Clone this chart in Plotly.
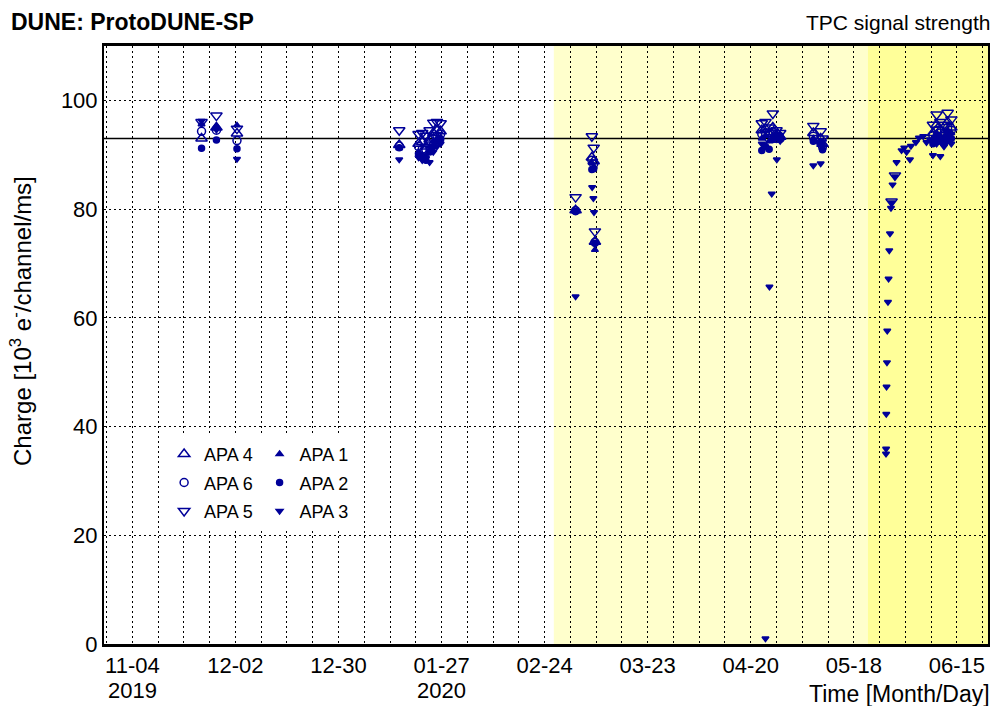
import pandas as pd
import plotly.graph_objects as go

# ------------------------------------------------------------------ data
APA4_DATES = ["2019-11-22 19:00", "2019-11-26 20:00", "2019-12-02 10:00", "2020-01-15 12:00",
              "2020-01-20 18:00", "2020-01-21 18:00", "2020-01-22 18:00", "2020-01-23 18:00",
              "2020-01-24 18:00", "2020-01-25 18:00", "2020-01-26 18:00",
              "2020-03-03 10:00", "2020-03-07 20:00", "2020-03-08 08:00", "2020-03-08 16:00",
              "2020-04-23 00:00", "2020-04-24 00:00", "2020-04-25 00:00", "2020-04-26 00:00",
              "2020-04-27 00:00", "2020-04-28 00:00",
              "2020-05-07 00:00", "2020-05-09 00:00", "2020-05-09 12:00",
              "2020-06-08 12:00", "2020-06-09 12:00", "2020-06-10 12:00", "2020-06-11 12:00",
              "2020-06-12 12:00", "2020-06-13 12:00"]
APA4_VALUES = [93.0, 95.0, 93.9, 91.8,
               92.0, 92.3, 91.5, 92.8, 94.0, 94.5, 94.3,
               79.8, 89.5, 88.8, 74.0,
               94.5, 94.8, 93.8, 95.0, 93.5, 93.3,
               94.0, 93.0, 92.0,
               94.0, 95.5, 94.5, 94.0, 96.0, 95.0]

APA6_DATES = APA4_DATES
APA6_VALUES = [94.3, 94.5, 92.6, 91.6,
               91.5, 91.0, 90.8, 92.0, 93.0, 93.5, 93.8,
               79.7, 89.0, 88.3, 73.9,
               93.8, 94.0, 93.0, 94.2, 93.0, 93.0,
               93.4, 92.2, 91.5,
               93.5, 94.5, 94.0, 93.5, 95.0, 94.5]

APA5_DATES = APA4_DATES + ["2020-05-28 06:15", "2020-05-29 04:20"]
APA5_VALUES = [96.0, 97.2, 94.8, 94.5,
               93.8, 94.0, 93.5, 94.5, 95.9, 96.0, 95.8,
               82.2, 93.4, 91.3, 75.9,
               95.8, 96.0, 95.0, 97.6, 94.5, 94.0,
               95.3, 94.3, 93.0,
               95.5, 97.4, 96.0, 95.5, 97.7, 96.5,
               81.4, 86.2]

APA1_DATES = APA4_DATES
APA1_VALUES = [95.6, 95.3, 95.4, 91.2,
               90.5, 90.0, 89.8, 91.5, 92.5, 93.0, 93.2,
               79.5, 88.5, 87.8, 72.5,
               93.0, 93.5, 92.5, 93.6, 93.8, 93.5,
               93.0, 92.5, 91.2,
               93.0, 94.0, 93.5, 93.2, 94.5, 94.0]

APA2_DATES = APA4_DATES
APA2_VALUES = [91.2, 92.7, 91.1, 91.3,
               90.0, 89.5, 89.0, 90.5, 91.5, 92.5, 92.8,
               79.6, 87.3, 87.4, 73.7,
               90.8, 91.5, 91.0, 92.8, 93.2, 93.5,
               92.5, 92.0, 90.9,
               92.0, 93.0, 92.5, 92.0, 93.5, 93.0]

APA3_DATES = ["2019-11-22 19:00", "2019-11-26 20:00", "2019-12-02 10:00", "2020-01-15 12:00",
              "2020-01-20 18:00", "2020-01-21 18:00", "2020-01-22 18:00", "2020-01-23 18:00",
              "2020-01-24 18:00", "2020-01-25 18:00", "2020-01-26 18:00",
              "2020-03-03 10:00", "2020-03-07 22:00", "2020-03-08 06:00", "2020-03-08 10:00",
              "2020-04-23 00:00", "2020-04-24 00:00", "2020-04-25 02:00", "2020-04-25 17:00",
              "2020-04-27 02:00", "2020-04-28 00:00",
              "2020-05-07 00:00", "2020-05-09 00:00", "2020-05-09 12:00",
              "2020-05-26 18:00", "2020-05-26 18:30", "2020-05-26 19:40", "2020-05-26 21:30",
              "2020-05-27 00:15", "2020-05-27 02:10", "2020-05-27 06:45", "2020-05-27 10:45",
              "2020-05-27 15:20", "2020-05-27 19:50", "2020-05-28 02:25", "2020-05-28 06:15",
              "2020-05-28 12:45", "2020-05-29 04:20", "2020-05-29 14:50", "2020-05-30 23:20",
              "2020-05-31 16:50", "2020-06-01 08:00", "2020-06-02 06:00", "2020-06-02 12:30",
              "2020-06-03 21:00", "2020-06-04 16:30", "2020-06-05 20:40", "2020-06-06 18:00",
              "2020-06-07 16:00",
              "2020-06-08 12:00", "2020-06-09 12:00", "2020-06-10 12:00", "2020-06-11 12:00",
              "2020-06-12 12:00", "2020-06-13 12:00"]
APA3_VALUES = [96.2, 94.6, 89.2, 89.1,
               89.5, 89.0, 89.3, 88.6, 90.5, 91.5, 92.0,
               63.9, 84.0, 82.0, 79.4,
               92.0, 1.0, 65.7, 82.8, 89.1, 92.5,
               88.0, 88.4, 91.5,
               35.0, 35.9, 42.3, 47.3,
               51.8, 57.6, 62.9, 67.2,
               72.4, 75.5, 80.2, 81.2,
               84.5, 86.0, 88.6, 90.8,
               91.3, 90.5, 89.1, 91.6,
               92.3, 93.1, 93.4, 92.3,
               92.8,
               89.9, 92.0, 89.7, 91.5, 92.5, 92.0]

REFERENCE_LEVEL = 93.0
PHASE_BOUNDARIES = ["2020-02-26 12:00", "2020-05-21 20:00"]

TICK_DATES = ["2019-11-04", "2019-12-02", "2019-12-30", "2020-01-27", "2020-02-24",
              "2020-03-23", "2020-04-20", "2020-05-18", "2020-06-15"]
TICK_TEXT = ["11-04", "12-02", "12-30", "01-27", "02-24",
             "03-23", "04-20", "05-18", "06-15"]
YEAR_DATES = ["2019-11-04", "2020-01-27"]
YEAR_TEXT = ["2019", "2020"]
GRID_START = "2019-10-28"

X_RANGE = ["2019-10-27 07:00", "2020-06-23 11:00"]
Y_RANGE = [0, 110]
Y_TICKS = [0, 20, 40, 60, 80, 100]

# ------------------------------------------------------------------ style
NAVY = "#000099"
FONT = "Liberation Sans, Arial, Helvetica, sans-serif"
WEEK_MS = 7 * 24 * 3600 * 1000

SERIES = [
    # name, dates, values, symbol, size, legend, rank
    ("APA 5", APA5_DATES, APA5_VALUES, "triangle-down-open", 10, "legend", 3),
    ("APA 4", APA4_DATES, APA4_VALUES, "triangle-up-open", 10, "legend", 1),
    ("APA 6", APA6_DATES, APA6_VALUES, "circle-open", 8, "legend", 2),
    ("APA 2", APA2_DATES, APA2_VALUES, "circle", 6, "legend2", 2),
    ("APA 1", APA1_DATES, APA1_VALUES, "triangle-up", 6, "legend2", 1),
    ("APA 3", APA3_DATES, APA3_VALUES, "triangle-down", 6, "legend2", 3),
]

fig = go.Figure()
for name, dates, values, symbol, size, leg, rank in SERIES:
    fig.add_trace(go.Scatter(
        x=pd.to_datetime(dates), y=values, mode="markers", name=name,
        legend=leg, legendrank=rank, legendgroup=name,
        marker=dict(symbol=symbol, size=size, color=NAVY,
                    line=dict(color=NAVY, width=1.5)),
    ))

# shaded periods
fig.add_shape(type="rect", xref="x", yref="paper", x0=PHASE_BOUNDARIES[0], x1=PHASE_BOUNDARIES[1],
              y0=0, y1=1, fillcolor="#FFFFCC", line_width=0, layer="below")
fig.add_shape(type="rect", xref="x", yref="paper", x0=PHASE_BOUNDARIES[1], x1=X_RANGE[1],
              y0=0, y1=1, fillcolor="#FFFF99", line_width=0, layer="below")
# reference level line
fig.add_shape(type="line", xref="paper", yref="y", x0=0, x1=1,
              y0=REFERENCE_LEVEL, y1=REFERENCE_LEVEL,
              line=dict(color="black", width=1.5), layer="between")

GRID = dict(showgrid=True, gridcolor="black", griddash="2px,3px", gridwidth=1)

fig.update_xaxes(
    type="date", range=X_RANGE, tickvals=pd.to_datetime(TICK_DATES), ticktext=TICK_TEXT,
    showline=True, linecolor="black", linewidth=2.5, mirror=True,
    ticks="", tickfont=dict(size=22, color="black", family=FONT),
    zeroline=False,
    minor=dict(tick0=GRID_START, dtick=WEEK_MS, ticks="", **GRID),
    **GRID,
)
fig.update_yaxes(
    range=Y_RANGE, tickvals=Y_TICKS,
    showline=True, linecolor="black", linewidth=2, mirror=True,
    ticks="", tickfont=dict(size=22, color="black", family=FONT),
    zeroline=False,
    **GRID,
)

legend_common = dict(
    xref="paper", yref="paper", xanchor="left", yanchor="top",
    bgcolor="white", borderwidth=0, font=dict(size=18, color="black", family=FONT),
    itemsizing="trace", traceorder="grouped", tracegroupgap=2,
)

annotations = [
    dict(text="<b>DUNE: ProtoDUNE-SP</b>", xref="paper", yref="paper",
         x=-0.107, y=1.040, xanchor="left", yanchor="middle", showarrow=False,
         font=dict(size=23, color="black", family=FONT)),
    dict(text="TPC signal strength", xref="paper", yref="paper",
         x=1.004, y=1.040, xanchor="right", yanchor="middle", showarrow=False,
         font=dict(size=21, color="black", family=FONT)),
    dict(text="Time [Month/Day]", xref="paper", yref="paper",
         x=1.004, y=-0.083, xanchor="right", yanchor="middle", showarrow=False,
         font=dict(size=23, color="black", family=FONT)),
    dict(text="Charge [10<sup>3</sup> e<sup>-</sup>/channel/ms]", xref="paper", yref="paper",
         x=-0.094, y=0.54, xanchor="center", yanchor="middle", textangle=-90,
         showarrow=False, font=dict(size=24, color="black", family=FONT)),
]
for d, t in zip(YEAR_DATES, YEAR_TEXT):
    annotations.append(dict(text=t, xref="x", yref="paper", x=pd.to_datetime(d), y=-0.077,
                            xanchor="center", yanchor="middle", showarrow=False, borderpad=0,
                            font=dict(size=22, color="black", family=FONT)))

fig.update_layout(
    width=993, height=706,
    margin=dict(l=104, r=3, t=46, b=62),
    paper_bgcolor="white", plot_bgcolor="white",
    font=dict(family=FONT, color="black"),
    showlegend=True,
    legend=dict(x=0.068, y=0.348, **legend_common),
    legend2=dict(x=0.176, y=0.348, **legend_common),
    annotations=annotations,
)

fig.write_html(
    "out.html",
    config={"displayModeBar": False},
    post_script="document.body.style.margin='0';document.body.style.overflow='hidden';",
)
